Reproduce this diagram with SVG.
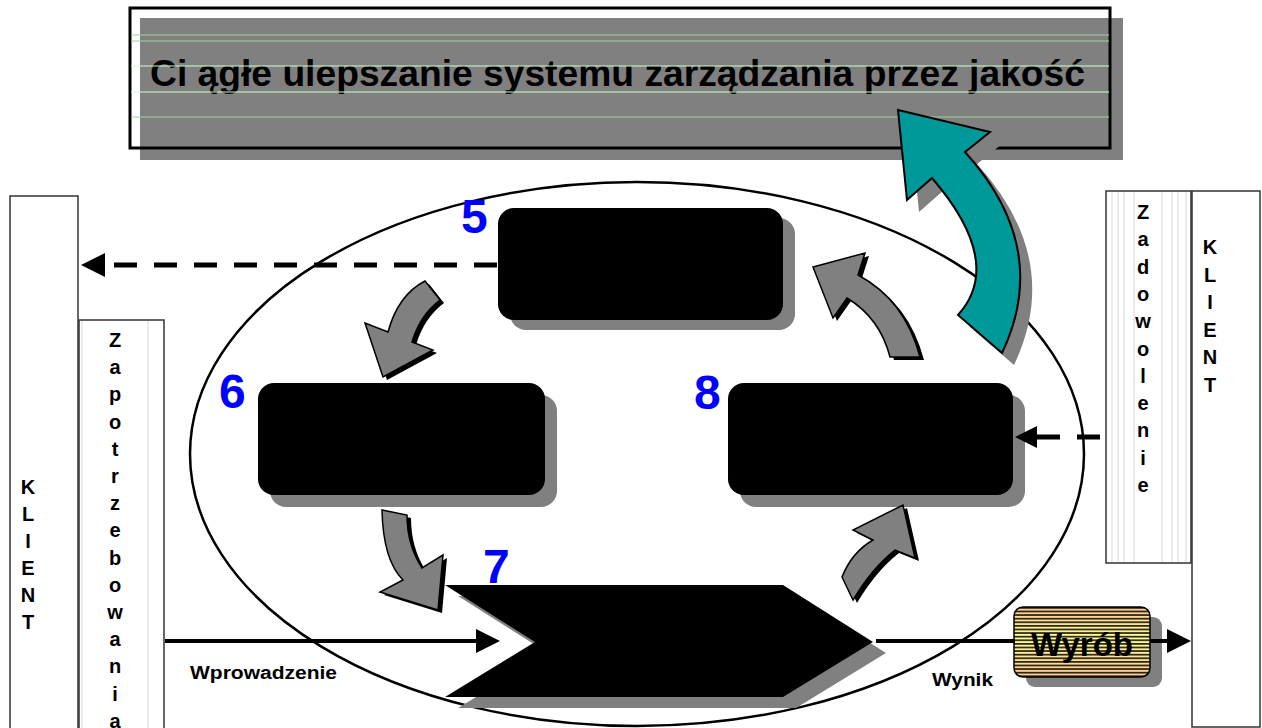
<svg xmlns="http://www.w3.org/2000/svg" width="1262" height="728" viewBox="0 0 1262 728">
<style>
.lbl{font-family:"Liberation Sans",Arial,sans-serif;font-weight:bold;fill:#000}
.num{font-family:"Liberation Sans",Arial,sans-serif;font-weight:bold;fill:#0000ff;font-size:48px}
.col{fill:#fff;stroke:#333;stroke-width:1.5}
.box{fill:#000}
.shd{fill:#808080}
.garr{fill:#808080;stroke:#000;stroke-width:1.5;stroke-linejoin:miter}
.garrs{fill:#000}
.thin{stroke:#d8d8d8;stroke-width:1}
.dash{stroke:#000;stroke-width:5;stroke-dasharray:23 17;fill:none}
.solid{stroke:#000;stroke-width:4;fill:none}
.grn{stroke:#9ad49a;stroke-width:1}
.grn2{stroke:#ccffcc;stroke-width:1}
</style>
<defs>
<linearGradient id="wyrg" x1="0" y1="0" x2="0" y2="1">
<stop offset="0" stop-color="#ffc890"/>
<stop offset="0.45" stop-color="#ffff99"/>
<stop offset="1" stop-color="#ffc890"/>
</linearGradient>
<pattern id="stripes" x="0" y="607" width="10" height="3.6" patternUnits="userSpaceOnUse">
<rect x="0" y="0" width="10" height="1.7" fill="#000"/>
</pattern>
</defs>

<g id="title">
<rect x="130" y="8" width="980" height="140" fill="#fff"/>
<rect x="140" y="18" width="983" height="142" fill="#808080"/>
<rect x="130" y="8" width="980" height="140" fill="none" stroke="#000" stroke-width="3"/>
<text class="lbl" x="150" y="86" font-size="37" textLength="935" lengthAdjust="spacingAndGlyphs">Ci ągłe ulepszanie systemu zarządzania przez jakość</text>
<line class="grn" x1="131" y1="35" x2="1109" y2="35"/>
<line class="grn" x1="131" y1="41" x2="1109" y2="41"/>
<line class="grn2" x1="131" y1="66" x2="1109" y2="66"/>
<line class="grn2" x1="131" y1="92" x2="1109" y2="92"/>
<line class="grn" x1="131" y1="117" x2="1109" y2="117"/>
</g>

<g id="cycle-ellipse">
<ellipse cx="637" cy="454" rx="447" ry="272" fill="#fff" stroke="#000" stroke-width="2.5"/>
</g>

<g id="klient-left">
<rect class="col" x="10" y="196" width="68" height="540"/>
<text class="lbl" font-size="20" text-anchor="middle">
<tspan x="28" y="494">K</tspan><tspan x="28" dy="27">L</tspan><tspan x="28" dy="27">I</tspan><tspan x="28" dy="27">E</tspan><tspan x="28" dy="27">N</tspan><tspan x="28" dy="27">T</tspan>
</text>
</g>

<g id="zapotrzebowania">
<rect class="col" x="79" y="320" width="85" height="420"/>
<line class="thin" x1="82" y1="321" x2="82" y2="728"/>
<line class="thin" x1="148" y1="321" x2="148" y2="728"/>
<text class="lbl" font-size="20" text-anchor="middle">
<tspan x="115" y="347">Z</tspan><tspan x="115" dy="27.2">a</tspan><tspan x="115" dy="27.2">p</tspan><tspan x="115" dy="27.2">o</tspan><tspan x="115" dy="27.2">t</tspan><tspan x="115" dy="27.2">r</tspan><tspan x="115" dy="27.2">z</tspan><tspan x="115" dy="27.2">e</tspan><tspan x="115" dy="27.2">b</tspan><tspan x="115" dy="27.2">o</tspan><tspan x="115" dy="27.2">w</tspan><tspan x="115" dy="27.2">a</tspan><tspan x="115" dy="27.2">n</tspan><tspan x="115" dy="27.2">i</tspan><tspan x="115" dy="27.2">a</tspan>
</text>
</g>

<g id="zadowolenie">
<rect class="col" x="1106" y="191" width="85" height="372"/>
<line class="thin" x1="1112" y1="192" x2="1112" y2="562"/>
<line class="thin" x1="1118" y1="192" x2="1118" y2="562"/>
<line class="thin" x1="1124" y1="192" x2="1124" y2="562"/>
<line class="thin" x1="1134" y1="192" x2="1134" y2="562"/>
<line class="thin" x1="1162" y1="192" x2="1162" y2="562"/>
<line class="thin" x1="1172" y1="192" x2="1172" y2="562"/>
<line class="thin" x1="1178" y1="192" x2="1178" y2="562"/>
<line class="thin" x1="1186" y1="192" x2="1186" y2="562"/>
<text class="lbl" font-size="20" text-anchor="middle">
<tspan x="1143" y="219">Z</tspan><tspan x="1143" dy="27.3">a</tspan><tspan x="1143" dy="27.3">d</tspan><tspan x="1143" dy="27.3">o</tspan><tspan x="1143" dy="27.3">w</tspan><tspan x="1143" dy="27.3">o</tspan><tspan x="1143" dy="27.3">l</tspan><tspan x="1143" dy="27.3">e</tspan><tspan x="1143" dy="27.3">n</tspan><tspan x="1143" dy="27.3">i</tspan><tspan x="1143" dy="27.3">e</tspan>
</text>
</g>

<g id="klient-right">
<rect class="col" x="1192" y="191" width="68" height="536"/>
<text class="lbl" font-size="20" text-anchor="middle">
<tspan x="1210" y="254">K</tspan><tspan x="1210" dy="27.5">L</tspan><tspan x="1210" dy="27.5">I</tspan><tspan x="1210" dy="27.5">E</tspan><tspan x="1210" dy="27.5">N</tspan><tspan x="1210" dy="27.5">T</tspan>
</text>
</g>

<g id="step5">
<rect class="shd" x="510" y="218" width="285" height="112" rx="16"/>
<rect class="box" x="498" y="208" width="285" height="112" rx="16"/>
<text class="num" x="461" y="233">5</text>
</g>

<g id="step6">
<rect class="shd" x="270" y="395" width="287" height="112" rx="16"/>
<rect class="box" x="258" y="383" width="287" height="112" rx="16"/>
<text class="num" x="219" y="408">6</text>
</g>

<g id="step8">
<rect class="shd" x="740" y="395" width="285" height="112" rx="16"/>
<rect class="box" x="728" y="383" width="285" height="112" rx="16"/>
<text class="num" x="694" y="409">8</text>
</g>

<g id="step7">
<polygon class="shd" points="458,596 796,596 886,653 796,708 458,708 548,653"/>
<polygon class="box" points="445,585 783,585 873,642 783,697 445,697 535,642"/>
<text class="num" x="483" y="583">7</text>
</g>

<g id="wyrob">
<rect class="shd" x="1026" y="617" width="136" height="70" rx="9"/>
<rect x="1014" y="607" width="136" height="70" rx="9" fill="url(#wyrg)"/>
<text class="lbl" x="1082" y="656" font-size="33" text-anchor="middle" fill="#000">Wyrób</text>
<rect x="1014" y="607" width="136" height="70" rx="9" fill="url(#stripes)" opacity="0.85"/>
<rect x="1014" y="607" width="136" height="70" rx="9" fill="none" stroke="#000" stroke-width="1.5"/>
</g>

<g id="connectors">
<line class="dash" x1="497" y1="265" x2="104" y2="265"/>
<polygon points="81,265 105,253 105,277" fill="#000"/>
<line class="dash" x1="1100" y1="437" x2="1036" y2="437" stroke-dasharray="20 12"/>
<polygon points="1015,437 1037,426 1037,448" fill="#000"/>
<line class="solid" x1="165" y1="641" x2="478" y2="641"/>
<polygon points="500,641 476,629 476,653" fill="#000"/>
<line class="solid" x1="876" y1="641" x2="1015" y2="641"/>
<line class="solid" x1="1150" y1="641" x2="1168" y2="641"/>
<polygon points="1191,641 1167,629 1167,653" fill="#000"/>
<text class="lbl" x="190" y="679" font-size="18" textLength="147" lengthAdjust="spacingAndGlyphs">Wprowadzenie</text>
<text class="lbl" x="932" y="686" font-size="18" textLength="61" lengthAdjust="spacingAndGlyphs">Wynik</text>

<g id="arrow-5-6">
<path class="garrs" transform="translate(4,3)" d="M425,281 Q398,295 388,332 L365,323 L383,377 L433,350 L412,342 Q420,315 440,300 Z"/>
<path class="garr" d="M425,281 Q398,295 388,332 L365,323 L383,377 L433,350 L412,342 Q420,315 440,300 Z"/>
</g>
<g id="arrow-6-7">
<path class="garrs" transform="translate(4,3)" d="M382,510 Q383,560 403,580 L380,592 L438,610 L443,555 L422,568 Q407,545 407,515 Z"/>
<path class="garr" d="M382,510 Q383,560 403,580 L380,592 L438,610 L443,555 L422,568 Q407,545 407,515 Z"/>
</g>
<g id="arrow-7-8">
<path class="garrs" transform="translate(4,3)" d="M842,577 Q852,552 873,540 L853,530 L903,505 L915,558 L895,550 Q872,568 853,600 Z"/>
<path class="garr" d="M842,577 Q852,552 873,540 L853,530 L903,505 L915,558 L895,550 Q872,568 853,600 Z"/>
</g>
<g id="arrow-8-5">
<path class="garrs" transform="translate(4,3)" d="M813,267 L865,253 L858,275 Q905,300 920,357 L890,357 Q880,318 847,298 L833,318 Z"/>
<path class="garr" d="M813,267 L865,253 L858,275 Q905,300 920,357 L890,357 Q880,318 847,298 L833,318 Z"/>
</g>
<g id="arrow-teal">
<path fill="#808080" transform="translate(12,12)" d="M898,110 L990,132 L965,152 Q1052,248 1002,353 L958,315 Q1005,263 932,178 L907,200 Z"/>
<path fill="#009999" stroke="#000" stroke-width="2" d="M898,110 L990,132 L965,152 Q1052,248 1002,353 L958,315 Q1005,263 932,178 L907,200 Z"/>
</g>
</g>
</svg>
